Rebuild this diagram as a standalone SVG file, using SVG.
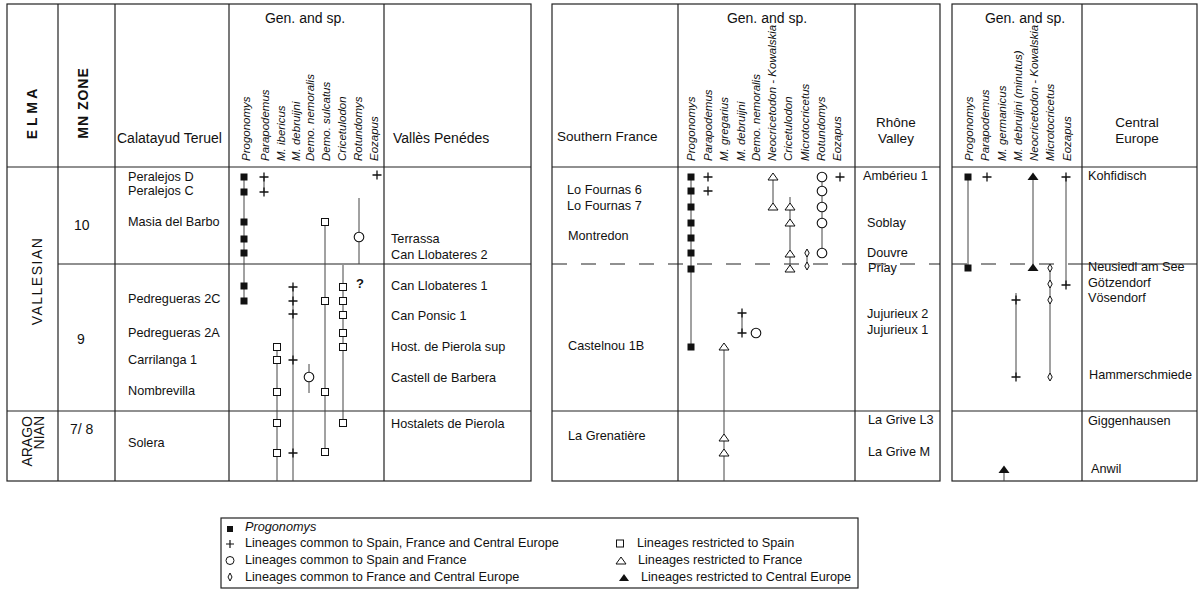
<svg xmlns="http://www.w3.org/2000/svg" width="1199" height="597" viewBox="0 0 1199 597">
<style>
text{font-family:"Liberation Sans",Arial,sans-serif;fill:#111}
.b{font-size:12.7px}
.h{font-size:14px}
.h2{font-size:13.5px}
.sp{font-size:11.5px;font-style:italic}
.bd{stroke:#222;stroke-width:1.2;fill:none}
.ln{stroke:#444;stroke-width:1;fill:none}
.ds{stroke:#222;stroke-width:1.2;fill:none;stroke-dasharray:15 14}
.rot{font-size:14px}
</style>
<defs>
<rect id="fsq" x="-3.5" y="-3.5" width="7" height="7" fill="#111"/>
<path id="plus" d="M-4.5,0H4.5M0,-4.5V4.5" stroke="#111" stroke-width="1.3" fill="none"/>
<rect id="osq" x="-3.5" y="-3.5" width="7" height="7" fill="#fff" stroke="#111" stroke-width="1"/>
<circle id="circ" r="4.8" fill="#fff" stroke="#111" stroke-width="1.1"/>
<path id="tri" d="M0,-4L5,3H-5Z" fill="#fff" stroke="#111" stroke-width="1"/>
<path id="dia" d="M0,-4L2.2,0L0,4L-2.2,0Z" fill="#fff" stroke="#111" stroke-width="1"/>
<path id="ftri" d="M0,-4.5L5.5,3H-5.5Z" fill="#111"/>
</defs>

<g id="table-spain">
<rect class="bd" x="7" y="4" width="524" height="477"/>
<path class="bd" d="M58,4V481M115,4V481M229,4V481M384,4V481M7,167H531M58,264H531M7,411H531"/>
<text x="37" y="114" transform="rotate(-90 37 114)" text-anchor="middle" class="rot" font-weight="bold">E L M A</text>
<text x="87.5" y="103" transform="rotate(-90 87.5 103)" text-anchor="middle" class="rot" font-weight="bold" letter-spacing="1">MN ZONE</text>
<text x="117" y="143" class="h">Calatayud Teruel</text>
<text x="305" y="23" class="h" text-anchor="middle">Gen. and sp.</text>
<text x="393" y="143" class="h">Vallès Penédes</text>
<g class="sp">
<text x="250" y="161" transform="rotate(-90 250 161)">Progonomys</text>
<text x="269" y="161" transform="rotate(-90 269 161)">Parapodemus</text>
<text x="285" y="161" transform="rotate(-90 285 161)">M. ibericus</text>
<text x="300" y="161" transform="rotate(-90 300 161)">M. debruijni</text>
<text x="314" y="161" transform="rotate(-90 314 161)">Demo. nemoralis</text>
<text x="330" y="161" transform="rotate(-90 330 161)">Demo. sulcatus</text>
<text x="346" y="161" transform="rotate(-90 346 161)">Cricetulodon</text>
<text x="362" y="161" transform="rotate(-90 362 161)">Rotundomys</text>
<text x="378" y="161" transform="rotate(-90 378 161)">Eozapus</text>
</g>
<text x="42" y="281" transform="rotate(-90 42 281)" text-anchor="middle" class="rot" letter-spacing="1.5">VALLESIAN</text>
<text x="32" y="416" transform="rotate(-90 32 416)" text-anchor="end" class="rot">ARAGO</text>
<text x="44" y="416" transform="rotate(-90 44 416)" text-anchor="end" class="rot">NIAN</text>
<text x="74" y="230" class="h">10</text>
<text x="77" y="344" class="h">9</text>
<text x="70" y="434" class="h">7/ 8</text>
<g class="b">
<text x="128" y="181">Peralejos D</text>
<text x="128" y="195">Peralejos C</text>
<text x="128" y="226">Masia del Barbo</text>
<text x="128" y="303">Pedregueras 2C</text>
<text x="128" y="337">Pedregueras 2A</text>
<text x="128" y="364">Carrilanga 1</text>
<text x="128" y="395">Nombrevilla</text>
<text x="128" y="447">Solera</text>
<text x="391" y="243">Terrassa</text>
<text x="391" y="259">Can Llobateres 2</text>
<text x="391" y="290">Can Llobateres 1</text>
<text x="391" y="320">Can Ponsic 1</text>
<text x="391" y="351">Host. de Pierola sup</text>
<text x="391" y="382">Castell de Barbera</text>
<text x="391" y="428">Hostalets de Pierola</text>
</g>
<text x="356" y="288" font-size="13" font-weight="bold">?</text>
</g>

<g id="table-france">
<rect class="bd" x="552" y="4" width="388" height="477"/>
<path class="bd" d="M678,4V481M855,4V481M552,167H940M552,411H940"/>
<path class="ds" d="M552,264H940"/>
<text x="557" y="141" class="h2">Southern France</text>
<text x="767" y="23" class="h" text-anchor="middle">Gen. and sp.</text>
<text x="896" y="127" class="h2" text-anchor="middle">Rhône</text>
<text x="896" y="143" class="h2" text-anchor="middle">Valley</text>
<g class="sp">
<text x="695" y="161" transform="rotate(-90 695 161)">Progonomys</text>
<text x="712" y="161" transform="rotate(-90 712 161)">Parapodemus</text>
<text x="728" y="161" transform="rotate(-90 728 161)">M. gregarius</text>
<text x="745" y="161" transform="rotate(-90 745 161)">M. debruijni</text>
<text x="760" y="161" transform="rotate(-90 760 161)">Demo. nemoralis</text>
<text x="776" y="161" transform="rotate(-90 776 161)">Neocricetodon - Kowalskia</text>
<text x="792" y="161" transform="rotate(-90 792 161)">Cricetulodon</text>
<text x="809" y="161" transform="rotate(-90 809 161)">Microtocricetus</text>
<text x="825" y="161" transform="rotate(-90 825 161)">Rotundomys</text>
<text x="841" y="161" transform="rotate(-90 841 161)">Eozapus</text>
</g>
<g class="b">
<text x="567" y="194">Lo Fournas 6</text>
<text x="567" y="210">Lo Fournas 7</text>
<text x="568" y="240">Montredon</text>
<text x="568" y="350">Castelnou 1B</text>
<text x="568" y="440">La Grenatière</text>
<text x="863" y="180">Ambérieu 1</text>
<text x="867" y="227">Soblay</text>
<text x="867" y="257">Douvre</text>
<text x="868" y="272">Priay</text>
<text x="867" y="318">Jujurieux 2</text>
<text x="867" y="334">Jujurieux 1</text>
<text x="868" y="424">La Grive L3</text>
<text x="868" y="456">La Grive M</text>
</g>
</g>

<g id="table-central">
<rect class="bd" x="952" y="4" width="245" height="477"/>
<path class="bd" d="M1082,4V481M952,167H1197M952,411H1197M1082,264H1197"/>
<path class="ds" d="M952,264H1082"/>
<text x="1025" y="23" class="h" text-anchor="middle">Gen. and sp.</text>
<text x="1137" y="127" class="h2" text-anchor="middle">Central</text>
<text x="1137" y="143" class="h2" text-anchor="middle">Europe</text>
<g class="sp">
<text x="973" y="161" transform="rotate(-90 973 161)">Progonomys</text>
<text x="989" y="161" transform="rotate(-90 989 161)">Parapodemus</text>
<text x="1006" y="161" transform="rotate(-90 1006 161)">M. germanicus</text>
<text x="1022" y="161" transform="rotate(-90 1022 161)">M. debruijni (minutus)</text>
<text x="1038" y="161" transform="rotate(-90 1038 161)">Neocricetodon - Kowalskia</text>
<text x="1054" y="161" transform="rotate(-90 1054 161)">Microtocricetus</text>
<text x="1071" y="161" transform="rotate(-90 1071 161)">Eozapus</text>
</g>
<g class="b">
<text x="1088" y="180">Kohfidisch</text>
<text x="1088" y="271">Neusiedl am See</text>
<text x="1088" y="287">Götzendorf</text>
<text x="1088" y="302">Vösendorf</text>
<text x="1089" y="379">Hammerschmiede</text>
<text x="1088" y="425">Giggenhausen</text>
<text x="1091" y="473">Anwil</text>
</g>
</g>

<g id="connectors">
<path class="ln" d="M244,177V301M264,177V192M359,198V264M325,222V452M343,265V423M293,287V481M277,347V481M309,364V393"/>
<path class="ln" d="M691,177V347M773,177V207M790,197V270M807,253V266M822,177V253M742,313V333M724,347V481"/>
<path class="ln" d="M968,177V268M1033,177V268M1066,177V285M1050,268V377M1016,293V377M1004,470V481"/>
</g>

<g id="markers-spain">
<use href="#fsq" x="244" y="177"/><use href="#fsq" x="244" y="192"/><use href="#fsq" x="244" y="222"/><use href="#fsq" x="244" y="239"/><use href="#fsq" x="244" y="253"/><use href="#fsq" x="244" y="286"/><use href="#fsq" x="244" y="301"/>
<use href="#plus" x="264" y="177"/><use href="#plus" x="264" y="192"/>
<use href="#plus" x="377" y="175"/>
<use href="#circ" x="359" y="237"/>
<use href="#osq" x="325" y="222"/><use href="#osq" x="325" y="301"/><use href="#osq" x="325" y="392"/><use href="#osq" x="325" y="452"/>
<use href="#osq" x="343" y="287"/><use href="#osq" x="343" y="301"/><use href="#osq" x="343" y="315"/><use href="#osq" x="343" y="333"/><use href="#osq" x="343" y="347"/><use href="#osq" x="343" y="423"/>
<use href="#plus" x="293" y="287"/><use href="#plus" x="293" y="301"/><use href="#plus" x="293" y="314"/><use href="#plus" x="293" y="360"/><use href="#plus" x="293" y="453"/>
<use href="#osq" x="277" y="347"/><use href="#osq" x="277" y="360"/><use href="#osq" x="277" y="392"/><use href="#osq" x="277" y="423"/><use href="#osq" x="277" y="453"/>
<use href="#circ" x="309" y="377"/>
</g>

<g id="markers-france">
<use href="#fsq" x="691" y="177"/><use href="#fsq" x="691" y="191"/><use href="#fsq" x="691" y="207"/><use href="#fsq" x="691" y="223"/><use href="#fsq" x="691" y="238"/><use href="#fsq" x="691" y="253"/><use href="#fsq" x="691" y="269"/><use href="#fsq" x="691" y="347"/>
<use href="#plus" x="708" y="177"/><use href="#plus" x="708" y="191"/>
<use href="#tri" x="773" y="177"/><use href="#tri" x="773" y="207"/>
<use href="#tri" x="790" y="207"/><use href="#tri" x="790" y="223"/><use href="#tri" x="790" y="254"/><use href="#tri" x="790" y="269"/>
<use href="#dia" x="807" y="253"/><use href="#dia" x="807" y="266"/>
<use href="#circ" x="822" y="177"/><use href="#circ" x="822" y="191"/><use href="#circ" x="822" y="207"/><use href="#circ" x="822" y="223"/><use href="#circ" x="822" y="253"/>
<use href="#plus" x="840" y="177"/>
<use href="#plus" x="742" y="313"/><use href="#plus" x="742" y="333"/>
<use href="#circ" x="756" y="333"/>
<use href="#tri" x="724" y="347"/><use href="#tri" x="724" y="438"/><use href="#tri" x="724" y="453"/>
</g>

<g id="markers-central">
<use href="#fsq" x="968" y="177"/><use href="#fsq" x="968" y="268"/>
<use href="#plus" x="987" y="177"/>
<use href="#ftri" x="1033" y="177"/><use href="#ftri" x="1033" y="268"/>
<use href="#plus" x="1066" y="177"/><use href="#plus" x="1066" y="285"/>
<use href="#dia" x="1050" y="268"/><use href="#dia" x="1050" y="284"/><use href="#dia" x="1050" y="300"/><use href="#dia" x="1050" y="377"/>
<use href="#plus" x="1016" y="300"/><use href="#plus" x="1016" y="377"/>
<use href="#ftri" x="1004" y="470"/>
</g>

<g id="legend">
<rect class="bd" x="221" y="518" width="637" height="70"/>
<rect x="227" y="526" width="6" height="6" fill="#111"/>
<path d="M226,544H234M230,540V548" stroke="#111" stroke-width="1.2"/>
<circle cx="230" cy="560.5" r="4" fill="#fff" stroke="#111" stroke-width="1"/>
<path d="M230,573L232,577L230,581L228,577Z" fill="#fff" stroke="#111" stroke-width="1"/>
<text x="245" y="531" class="b" font-style="italic">Progonomys</text>
<text x="245" y="547" class="b">Lineages common to Spain, France and Central Europe</text>
<text x="245" y="564" class="b">Lineages common to Spain and France</text>
<text x="245" y="581" class="b">Lineages common to France and Central Europe</text>
<rect x="616.5" y="540" width="7" height="7" fill="#fff" stroke="#111" stroke-width="1"/>
<path d="M621,557L626,564H616Z" fill="#fff" stroke="#111" stroke-width="1"/>
<path d="M624,574L629,581H619Z" fill="#111"/>
<text x="637" y="547" class="b">Lineages restricted to Spain</text>
<text x="638" y="564" class="b">Lineages restricted to France</text>
<text x="641" y="581" class="b">Lineages restricted to Central Europe</text>
</g>
</svg>
